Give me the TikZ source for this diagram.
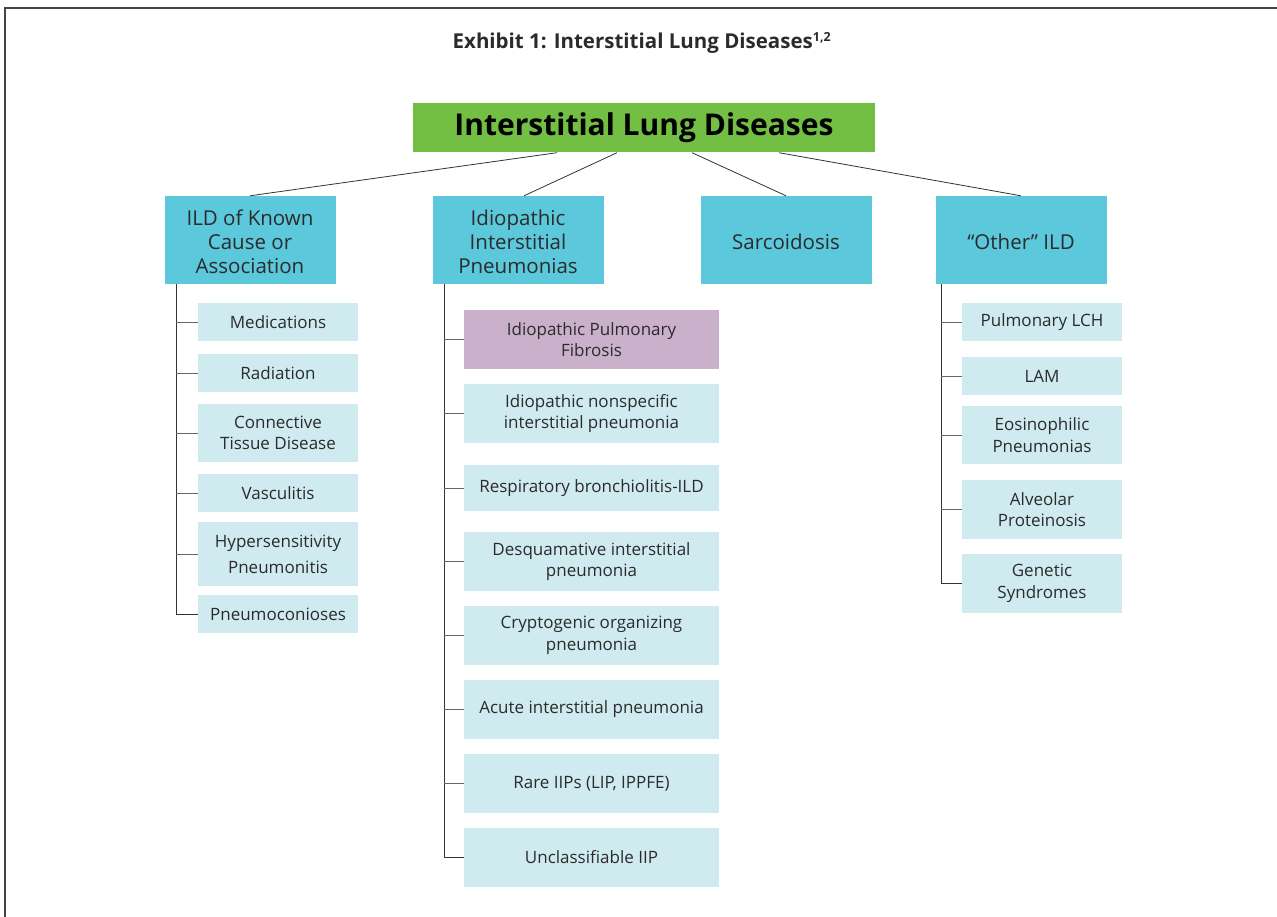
\documentclass[tikz,border=0pt]{standalone}
\usepackage{fontspec}
\setmainfont{Open Sans}[Ligatures=NoCommon]
\definecolor{txt}{HTML}{2B2B2B}
\definecolor{rootgreen}{HTML}{72BF44}
\definecolor{catblue}{HTML}{5BC8DC}
\definecolor{subblue}{HTML}{CFEBF0}
\definecolor{ipfpink}{HTML}{CBB0CC}
\definecolor{frameline}{HTML}{444444}
\definecolor{trunkline}{HTML}{333333}
\definecolor{tickline}{HTML}{666666}
\begin{document}
\begin{tikzpicture}[x=1pt,y=-1pt,
  every node/.style={text=txt, inner sep=0pt, align=center},
  rootbox/.style={fill=rootgreen, minimum width=462pt, minimum height=49pt,
    font=\fontsize{30}{33}\selectfont\bfseries, text=black},
  catbox/.style={fill=catblue, minimum width=171pt, minimum height=88pt,
    font=\fontsize{20.5}{24}\selectfont},
  catlabel/.style={font=\fontsize{20.5}{24}\selectfont},
  leafA/.style={fill=subblue, minimum width=160pt, font=\fontsize{17}{21.5}\selectfont},
  leafB/.style={fill=subblue, minimum width=255pt, minimum height=59pt, font=\fontsize{17}{21.5}\selectfont},
  link/.style={draw=trunkline, line width=0.8pt},
  trunk/.style={draw=trunkline, line width=0.9pt},
  tick/.style={draw=tickline, line width=0.9pt}]
\useasboundingbox (0,0) rectangle (1277,917);

% open frame
\draw[draw=frameline, line width=1.2pt] (5,917) -- (5,8) -- (1277,8);

% title
\node (title) at (642,43) {\fontsize{20.5}{24}\selectfont\bfseries Exhibit 1: Interstitial Lung Diseases\textsuperscript{\fontsize{12.5}{14}\selectfont 1,2}};

% root and the four categories
\node[rootbox] (root) at (644,128) {Interstitial Lung Diseases};
\node[catbox] (known) at (250,240) {};
\node[catbox] (iip)   at (518,240) {};
\node[catbox] (sarc)  at (786,240) {};
\node[catbox] (other) at (1021,240) {};
\node[catlabel] (knownlbl) at ([yshift=-2pt]known.center) {ILD of Known\\Cause or\\Association};
\node[catlabel] (iiplbl)   at ([yshift=-2pt]iip.center) {Idiopathic\\Interstitial\\Pneumonias};
\node[catlabel] (sarclbl)  at ([yshift=-2pt]sarc.center) {Sarcoidosis};
\node[catlabel] (otherlbl) at ([yshift=-2pt]other.center) {“Other” ILD};

\draw[link] ([xshift=-87pt]root.south) -- (known.north);
\draw[link] ([xshift=-27pt]root.south) -- ([xshift=6pt]iip.north);
\draw[link] ([xshift=48pt]root.south)  -- (sarc.north);
\draw[link] ([xshift=135pt]root.south) -- (other.north);

% known cause or association
\node[leafA, minimum height=38pt] (med)   at (278,322) {Medications};
\node[leafA, minimum height=38pt] (rad)   at (278,373) {Radiation};
\node[leafA, minimum height=58pt] (ctd)   at (278,433) {Connective\\Tissue Disease};
\node[leafA, minimum height=38pt] (vasc)  at (278,493) {Vasculitis};
\node[leafA, minimum height=64pt, font=\fontsize{17}{26}\selectfont] (hyp) at (278,554) {Hypersensitivity\\Pneumonitis};
\node[leafA, minimum height=38pt] (pneu)  at (278,614) {Pneumoconioses};

\coordinate (tA) at ([xshift=12pt]known.south west);
\draw[trunk] (tA) |- (pneu.west);
\foreach \n in {med,rad,ctd,vasc,hyp}
  \draw[tick] (\n.west) -- (\n.west -| tA);

% idiopathic interstitial pneumonias
\node[leafB, fill=ipfpink] (ipf) at (591.5,339.5) {Idiopathic Pulmonary\\Fibrosis};
\node[leafB] (nsip) at (591.5,413.5) {Idiopathic nonspecific\\interstitial pneumonia};
\node[leafB, minimum height=46pt] (rbild) at (591.5,488) {Respiratory bronchiolitis-ILD};
\node[leafB] (dip)  at (591.5,561.5) {Desquamative interstitial\\pneumonia};
\node[leafB] (cop)  at (591.5,635.5) {Cryptogenic organizing\\pneumonia};
\node[leafB] (aip)  at (591.5,709.5) {Acute interstitial pneumonia};
\node[leafB] (rare) at (591.5,783.5) {Rare IIPs (LIP, IPPFE)};
\node[leafB] (uncl) at (591.5,857.5) {Unclassifiable IIP};

\coordinate (tB) at ([xshift=12pt]iip.south west);
\draw[trunk] (tB) |- (uncl.west);
\foreach \n in {ipf,nsip,rbild,dip,cop,aip,rare}
  \draw[tick] (\n.west) -- (\n.west -| tB);

% other ILD
\node[leafA, minimum height=38pt] (lch) at (1042,322) {Pulmonary LCH};
\node[leafA, minimum height=38pt] (lam) at (1042,376) {LAM};
\node[leafA, minimum height=58pt] (eos) at (1042,435) {Eosinophilic\\Pneumonias};
\node[leafA, minimum height=59pt] (alv) at (1042,509.5) {Alveolar\\Proteinosis};
\node[leafA, minimum height=59pt] (gen) at (1042,583.5) {Genetic\\Syndromes};

\coordinate (tD) at ([xshift=6pt]other.south west);
\draw[trunk] (tD) |- (gen.west);
\foreach \n in {lch,lam,eos,alv}
  \draw[tick] (\n.west) -- (\n.west -| tD);
\end{tikzpicture}
\end{document}
